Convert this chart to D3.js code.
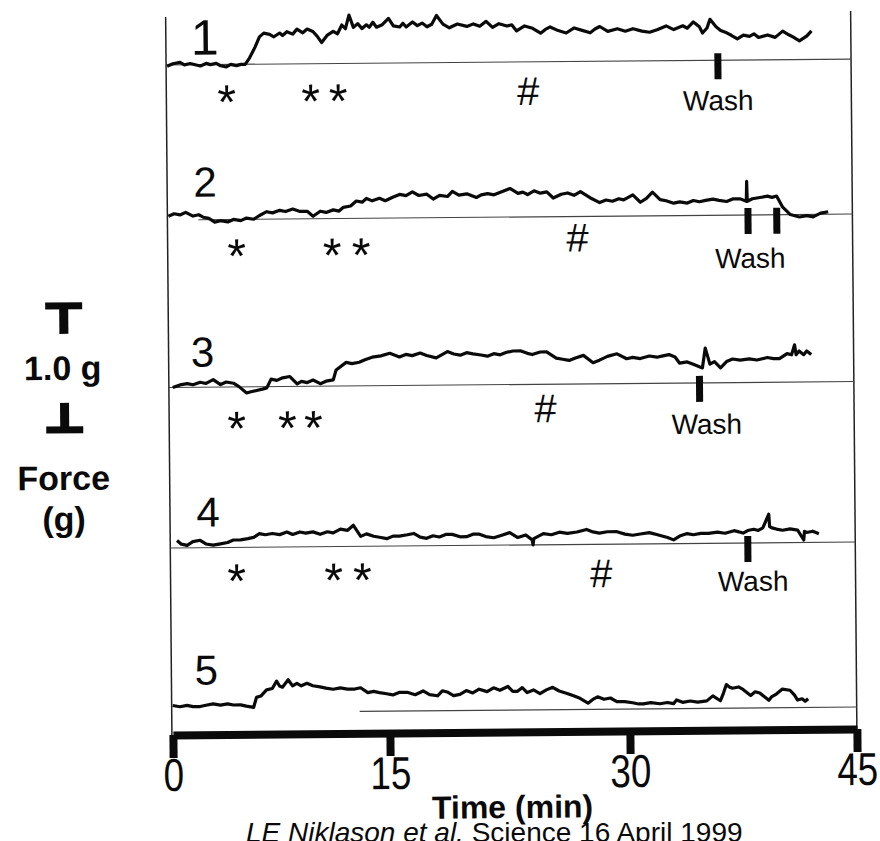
<!DOCTYPE html>
<html>
<head>
<meta charset="utf-8">
<script src="https://cdn.jsdelivr.net/npm/d3@7"></script>
<style>
  html, body { margin: 0; padding: 0; background: #fff; }
  svg { display: block; }
</style>
</head>
<body>
<svg id="chart" width="880" height="841"></svg>
<script>
// 数据：时间(min), 力(g)，相对各自基线
const traceLabels = ['1', '2', '3', '4', '5'];
const timeTicks = [0, 15, 30, 45];

const trace1 = [[0.0,-0.01],[0.4,0.01],[0.9,0.02],[1.2,0.00],[1.6,0.01],[2.3,-0.01],[2.7,0.01],[3.0,0.00],[3.4,0.01],[3.7,-0.01],[4.1,-0.02],[4.4,0.00],[4.8,-0.01],[5.1,0.00],[5.4,0.00],[5.7,0.05],[6.1,0.14],[6.4,0.22],[6.7,0.25],[7.1,0.24],[7.4,0.22],[7.8,0.25],[8.0,0.23],[8.3,0.26],[8.7,0.24],[9.0,0.28],[9.4,0.25],[9.7,0.28],[10.1,0.26],[10.4,0.22],[10.7,0.17],[11.1,0.23],[11.5,0.26],[11.8,0.24],[12.1,0.31],[12.35,0.28],[12.6,0.39],[12.9,0.29],[13.2,0.32],[13.5,0.28],[13.8,0.31],[14.0,0.29],[14.25,0.33],[14.5,0.29],[14.9,0.31],[15.3,0.36],[15.6,0.30],[16.0,0.29],[16.2,0.32],[16.4,0.29],[16.8,0.33],[17.1,0.30],[17.4,0.32],[17.7,0.29],[18.0,0.31],[18.3,0.38],[18.7,0.31],[19.1,0.28],[19.6,0.31],[20.2,0.29],[20.6,0.31],[21.0,0.29],[21.4,0.33],[21.8,0.28],[22.2,0.31],[22.7,0.29],[23.0,0.30],[23.3,0.25],[23.8,0.29],[24.3,0.27],[24.8,0.23],[25.1,0.26],[25.4,0.28],[25.9,0.25],[26.4,0.23],[26.9,0.27],[27.4,0.25],[27.9,0.23],[28.2,0.26],[28.5,0.28],[29.0,0.24],[29.6,0.26],[30.1,0.24],[30.6,0.26],[31.2,0.24],[31.7,0.23],[32.2,0.25],[32.8,0.28],[33.3,0.25],[33.9,0.28],[34.2,0.26],[34.6,0.31],[35.0,0.27],[35.2,0.22],[35.5,0.26],[35.7,0.33],[36.1,0.27],[36.4,0.24],[36.8,0.22],[37.1,0.20],[37.5,0.17],[37.9,0.20],[38.3,0.19],[38.6,0.21],[38.9,0.18],[39.5,0.20],[40.0,0.18],[40.5,0.23],[40.9,0.20],[41.2,0.18],[41.6,0.15],[42.1,0.19],[42.4,0.23]];

const trace2 = [[0.0,0.03],[0.4,0.05],[0.8,0.04],[1.2,0.06],[1.7,0.03],[2.1,0.04],[2.4,0.02],[2.8,0.01],[3.2,-0.02],[3.6,-0.01],[4.1,-0.02],[4.5,0.00],[5.0,-0.01],[5.4,0.01],[5.9,0.00],[6.3,0.03],[6.8,0.06],[7.2,0.05],[7.7,0.07],[8.1,0.06],[8.6,0.08],[9.1,0.06],[9.6,0.06],[10.0,0.02],[10.5,0.06],[10.9,0.05],[11.4,0.07],[11.8,0.06],[12.1,0.09],[12.6,0.10],[13.0,0.14],[13.4,0.13],[13.7,0.16],[14.1,0.14],[14.6,0.16],[15.0,0.14],[15.5,0.17],[15.9,0.19],[16.3,0.18],[16.7,0.21],[17.1,0.18],[17.6,0.19],[18.0,0.15],[18.4,0.18],[18.9,0.17],[19.2,0.21],[19.6,0.18],[20.1,0.19],[20.7,0.16],[21.0,0.18],[21.4,0.19],[21.8,0.18],[22.2,0.20],[22.8,0.23],[23.3,0.19],[23.6,0.20],[23.9,0.18],[24.3,0.21],[24.7,0.19],[25.1,0.20],[25.5,0.15],[26.0,0.18],[26.4,0.19],[26.8,0.17],[27.2,0.20],[27.8,0.15],[28.4,0.11],[28.8,0.13],[29.2,0.12],[29.6,0.14],[29.9,0.13],[30.5,0.17],[31.0,0.11],[31.4,0.14],[31.8,0.19],[32.3,0.13],[32.7,0.12],[33.2,0.10],[33.6,0.11],[34.1,0.10],[34.5,0.12],[34.9,0.11],[35.3,0.12],[35.8,0.13],[36.2,0.12],[36.7,0.11],[37.1,0.13],[37.6,0.13],[38.0,0.11],[38.03,0.27],[38.06,0.11],[38.4,0.13],[38.9,0.14],[39.4,0.15],[39.7,0.14],[40.0,0.15],[40.4,0.06],[40.9,0.00],[41.5,-0.02],[42.0,-0.01],[42.4,-0.02],[42.9,0.01],[43.4,0.02]];

const trace3 = [[0.2,0.00],[0.7,0.02],[1.2,0.03],[1.6,0.02],[2.1,0.04],[2.5,0.03],[3.0,0.06],[3.5,0.02],[3.9,0.04],[4.4,0.03],[4.8,0.00],[5.3,-0.05],[5.6,-0.04],[6.0,-0.03],[6.4,-0.02],[6.7,-0.01],[7.0,0.06],[7.4,0.05],[7.8,0.07],[8.3,0.08],[8.8,0.02],[9.1,0.04],[9.5,0.03],[9.9,0.05],[10.4,0.02],[10.8,0.04],[11.3,0.05],[11.5,0.13],[12.2,0.19],[12.6,0.18],[13.1,0.19],[13.5,0.21],[14.0,0.23],[14.6,0.24],[15.2,0.26],[15.8,0.23],[16.2,0.25],[16.6,0.24],[17.1,0.26],[17.5,0.24],[18.1,0.22],[18.8,0.27],[19.2,0.25],[19.6,0.24],[20.0,0.26],[20.4,0.25],[20.9,0.24],[21.3,0.23],[21.7,0.25],[22.1,0.24],[22.5,0.26],[22.9,0.27],[23.4,0.27],[23.8,0.25],[24.1,0.24],[24.6,0.26],[25.0,0.26],[25.6,0.21],[26.0,0.20],[26.4,0.19],[26.8,0.21],[27.3,0.23],[27.9,0.17],[28.3,0.19],[28.8,0.22],[29.4,0.24],[30.0,0.20],[30.4,0.21],[30.9,0.20],[31.5,0.22],[32.0,0.21],[32.4,0.22],[32.8,0.23],[33.2,0.21],[33.5,0.16],[34.0,0.17],[34.4,0.15],[35.0,0.12],[35.2,0.28],[35.5,0.15],[35.8,0.17],[36.2,0.12],[36.6,0.17],[37.0,0.19],[37.5,0.18],[38.1,0.19],[38.6,0.18],[39.3,0.20],[39.7,0.19],[40.1,0.19],[40.6,0.23],[40.9,0.22],[41.1,0.30],[41.2,0.22],[41.4,0.25],[41.7,0.22],[41.9,0.25],[42.2,0.22]];

const trace4 = [[0.4,0.06],[0.7,0.03],[1.1,0.02],[1.5,0.05],[2.0,0.06],[2.4,0.03],[2.9,0.02],[3.4,0.03],[3.9,0.04],[4.3,0.06],[4.8,0.06],[5.3,0.07],[5.7,0.08],[6.1,0.11],[6.5,0.10],[7.0,0.11],[7.5,0.10],[8.0,0.12],[8.4,0.10],[8.9,0.12],[9.3,0.11],[9.8,0.12],[10.3,0.10],[10.8,0.12],[11.2,0.11],[11.7,0.14],[12.2,0.13],[12.6,0.17],[13.1,0.08],[13.5,0.10],[14.0,0.08],[14.5,0.07],[14.9,0.06],[15.3,0.08],[15.7,0.08],[16.2,0.09],[16.6,0.10],[17.0,0.07],[17.4,0.06],[17.8,0.08],[18.2,0.07],[18.6,0.09],[19.0,0.09],[19.5,0.07],[19.9,0.07],[20.3,0.09],[20.7,0.09],[21.1,0.07],[21.6,0.06],[22.1,0.08],[22.6,0.10],[23.1,0.06],[23.6,0.08],[24.0,0.04],[24.05,0.00],[24.1,0.05],[24.4,0.07],[24.7,0.09],[25.2,0.08],[25.7,0.10],[26.2,0.09],[26.8,0.10],[27.4,0.12],[27.8,0.10],[28.2,0.09],[28.7,0.10],[29.3,0.10],[29.8,0.08],[30.3,0.07],[30.8,0.08],[31.4,0.09],[32.0,0.07],[32.6,0.05],[33.0,0.03],[33.4,0.06],[33.9,0.08],[34.3,0.07],[34.8,0.08],[35.3,0.08],[35.9,0.09],[36.4,0.08],[37.0,0.10],[37.6,0.08],[37.9,0.10],[38.3,0.11],[38.6,0.10],[38.9,0.12],[39.3,0.23],[39.35,0.13],[39.5,0.12],[39.8,0.11],[40.2,0.10],[40.7,0.11],[41.2,0.10],[41.6,0.02],[41.65,0.09],[41.8,0.08],[42.2,0.09],[42.6,0.07]];

const trace5 = [[0.0,0.06],[0.5,0.05],[1.0,0.06],[1.4,0.05],[1.9,0.05],[2.3,0.06],[2.8,0.07],[3.3,0.06],[3.8,0.07],[4.2,0.06],[4.7,0.06],[5.1,0.05],[5.6,0.04],[5.8,0.12],[6.1,0.13],[6.5,0.18],[6.9,0.19],[7.2,0.25],[7.4,0.21],[7.6,0.20],[8.0,0.26],[8.3,0.21],[8.6,0.23],[8.9,0.21],[9.3,0.23],[9.7,0.21],[10.2,0.20],[10.6,0.19],[11.1,0.18],[11.6,0.19],[12.1,0.18],[12.6,0.18],[13.0,0.19],[13.5,0.15],[13.9,0.16],[14.3,0.15],[14.8,0.14],[15.2,0.13],[15.6,0.15],[16.1,0.15],[16.6,0.13],[17.1,0.16],[17.5,0.13],[18.0,0.12],[18.3,0.16],[18.6,0.15],[19.0,0.12],[19.4,0.13],[19.8,0.16],[20.2,0.14],[20.6,0.17],[21.1,0.15],[21.5,0.18],[21.9,0.16],[22.4,0.19],[22.7,0.15],[23.0,0.15],[23.3,0.18],[23.6,0.14],[24.0,0.16],[24.4,0.13],[24.8,0.16],[25.2,0.18],[25.6,0.15],[26.1,0.13],[26.5,0.11],[26.9,0.09],[27.4,0.05],[27.7,0.08],[28.0,0.10],[28.4,0.08],[28.8,0.09],[29.2,0.06],[29.7,0.06],[30.2,0.05],[30.6,0.04],[30.9,0.04],[31.4,0.05],[32.0,0.04],[32.5,0.05],[32.9,0.04],[33.1,0.07],[33.5,0.05],[34.0,0.06],[34.5,0.05],[35.1,0.06],[35.5,0.10],[36.0,0.06],[36.2,0.12],[36.4,0.19],[36.6,0.17],[36.8,0.16],[37.2,0.17],[37.5,0.15],[38.0,0.10],[38.3,0.13],[38.6,0.12],[39.2,0.06],[39.4,0.09],[39.7,0.11],[40.1,0.15],[40.6,0.14],[40.9,0.10],[41.1,0.06],[41.4,0.07],[41.6,0.05],[41.8,0.07]];

const traces = [trace1, trace2, trace3, trace4, trace5];

// 加药 / 冲洗时间点 (min)
const starTimes = [[4.1, 9.9, 11.8], [4.7, 11.3, 13.3], [4.6, 8.1, 9.9], [4.5, 11.2, 13.2], []];
const hashTimes = [24.0, 27.0, 24.9, 28.3, null];
const washTimes = [[36.2], [38.1, 40.0], [34.8], [37.9], []];

// 配置模块
const Config = {
    tilt: -0.5,              // 扫描件轻微倾斜
    tiltCenter: [512, 400],
    timeRange: [170, 387, 627, 854],
    axisY: 732,
    frameTop: 14,
    gramPx: 124,
    baselines: [62, 217, 384.5, 545, 710],
    baselineStart: [169, 200, 169, 169, 357],
    labelPos: [[208, 52, 50], [207, 194, 42], [203, 364, 42], [207, 524, 42], [204, 682, 42]],
    starDy: [27, 26, 31, 23],
    hashDy: [29, 21, 24, 29],
    washDy: [50, 53, 51, 48],
    washDx: [0, 2, 7, 5],
    font: "'Liberation Sans', Arial, Helvetica, sans-serif",
    ink: '#0a0a0a'
};

let svg, fig, x;

function drawTrace(i) {
    const b = Config.baselines[i];
    const y = d3.scaleLinear().domain([0, 1]).range([b, b - Config.gramPx]);
    const g = fig.append('g').attr('class', 'trace');

    // 基线
    g.append('line')
        .attr('x1', Config.baselineStart[i]).attr('x2', x(45))
        .attr('y1', y(0)).attr('y2', y(0))
        .attr('stroke', '#444').attr('stroke-width', 1.2);

    // 曲线
    const line = d3.line().x(d => x(d[0])).y(d => y(d[1]));
    g.append('path')
        .datum(traces[i])
        .attr('d', line)
        .attr('fill', 'none')
        .attr('stroke', Config.ink)
        .attr('stroke-width', 3.2)
        .attr('stroke-linejoin', 'round');

    // 编号
    const lp = Config.labelPos[i];
    g.append('text')
        .attr('x', lp[0]).attr('y', lp[1])
        .attr('text-anchor', 'middle')
        .attr('font-family', Config.font)
        .attr('font-size', lp[2])
        .attr('fill', Config.ink)
        .text(traceLabels[i]);

    if (i > 3) return;

    g.selectAll('.star')
        .data(starTimes[i])
        .enter().append('text')
        .attr('class', 'star')
        .attr('x', d => x(d))
        .attr('y', b + Config.starDy[i] + 27)
        .attr('text-anchor', 'middle')
        .attr('font-family', Config.font)
        .attr('font-size', 48)
        .attr('fill', Config.ink)
        .text('*');

    g.append('text')
        .attr('x', x(hashTimes[i]))
        .attr('y', b + Config.hashDy[i] + 14)
        .attr('text-anchor', 'middle')
        .attr('font-family', Config.font)
        .attr('font-size', 40)
        .attr('fill', Config.ink)
        .text('#');

    g.selectAll('.wash')
        .data(washTimes[i])
        .enter().append('rect')
        .attr('class', 'wash')
        .attr('x', d => x(d) - 3.5)
        .attr('y', b - 7)
        .attr('width', 7)
        .attr('height', 26)
        .attr('fill', Config.ink);

    g.append('text')
        .attr('x', x(washTimes[i][0]) + Config.washDx[i])
        .attr('y', b + Config.washDy[i])
        .attr('text-anchor', 'middle')
        .attr('font-family', Config.font)
        .attr('font-size', 28)
        .attr('fill', Config.ink)
        .text('Wash');
}

function drawScaleBar() {
    // 1.0 g 比例尺
    const sb = d3.scaleLinear().domain([0, 1]).range([426, 426 - Config.gramPx]);
    const g = fig.append('g').attr('fill', Config.ink);
    g.append('rect').attr('x', 46).attr('y', sb(1) - 3.5).attr('width', 37).attr('height', 7);
    g.append('rect').attr('x', 60).attr('y', sb(1)).attr('width', 9).attr('height', 28);
    g.append('rect').attr('x', 60).attr('y', sb(0) - 27).attr('width', 9).attr('height', 27);
    g.append('rect').attr('x', 46).attr('y', sb(0) - 3.5).attr('width', 37).attr('height', 7);

    const txt = [['1.0 g', 376], ['Force', 486], ['(g)', 527]];
    g.selectAll('text')
        .data(txt)
        .enter().append('text')
        .attr('x', 63).attr('y', d => d[1])
        .attr('text-anchor', 'middle')
        .attr('font-family', Config.font)
        .attr('font-size', 34)
        .attr('font-weight', 'bold')
        .text(d => d[0]);
}

function drawAxis() {
    const axis = d3.axisBottom(x)
        .tickValues(timeTicks)
        .tickSize(23)
        .tickSizeOuter(0)
        .tickPadding(0);

    const ax = fig.append('g')
        .attr('transform', `translate(0,${Config.axisY})`)
        .call(axis)
        .attr('font-family', Config.font)
        .attr('font-size', 46);

    ax.select('.domain').attr('stroke', Config.ink).attr('stroke-width', 8);
    ax.selectAll('.tick line').attr('stroke', Config.ink).attr('stroke-width', 8);
    // 原图刻度数字为窄体
    ax.selectAll('.tick text')
        .attr('y', 0).attr('dy', null)
        .attr('transform', 'translate(0,56) scale(0.8,1)')
        .attr('fill', Config.ink);

    fig.append('text')
        .attr('x', 509).attr('y', 818)
        .attr('text-anchor', 'middle')
        .attr('font-family', Config.font)
        .attr('font-size', 32)
        .attr('font-weight', 'bold')
        .attr('fill', Config.ink)
        .text('Time (min)');
}

function init() {
    svg = d3.select('#chart');
    svg.append('rect').attr('width', 880).attr('height', 841).attr('fill', '#fff');

    const [cx, cy] = Config.tiltCenter;
    fig = svg.append('g').attr('transform', `rotate(${Config.tilt},${cx},${cy})`);

    // 非均匀的时间轴（按原图刻度位置）
    x = d3.scaleLinear().domain(timeTicks).range(Config.timeRange);

    // 外框竖线
    fig.selectAll('.frame')
        .data([0, 45])
        .enter().append('line')
        .attr('class', 'frame')
        .attr('x1', d => x(d) - (d === 0 ? 1 : 0)).attr('x2', d => x(d) - (d === 0 ? 1 : 0))
        .attr('y1', Config.frameTop).attr('y2', Config.axisY)
        .attr('stroke', '#222').attr('stroke-width', 1.5);

    traces.forEach((t, i) => drawTrace(i));
    drawScaleBar();
    drawAxis();

    // 出处
    const cap = svg.append('text')
        .attr('x', 246).attr('y', 842)
        .attr('font-family', Config.font)
        .attr('font-size', 28)
        .attr('fill', Config.ink);
    cap.append('tspan').attr('font-style', 'italic').text('LE Niklason et al.');
    cap.append('tspan').text(' Science 16 April 1999');
}

document.addEventListener('DOMContentLoaded', init);
</script>
</body>
</html>
